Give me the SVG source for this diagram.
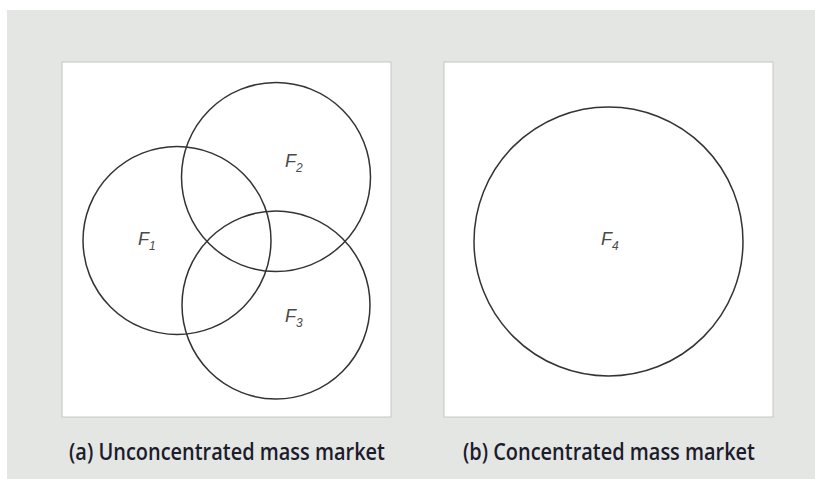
<svg xmlns="http://www.w3.org/2000/svg" width="815" height="479" viewBox="0 0 815 479">
<style>
.panel{fill:#ffffff;stroke:#c4c6c4;stroke-width:1}
.seg{fill:none;stroke:#333333;stroke-width:1.5}
.lbl{font-family:"Liberation Sans",Arial,sans-serif;font-style:italic;fill:#4a4a4a}
.f{font-size:18px}
.sub{font-size:12px}
.cap{font-family:"Open Sans","Liberation Sans",sans-serif;font-weight:600;font-size:23px;fill:#1c1c2c}
</style>
<rect x="0" y="0" width="815" height="479" fill="#ffffff"/>
<rect x="7" y="10" width="808" height="469" fill="#e4e6e4"/>
<g id="panel-a">
<rect class="panel" x="62" y="62" width="329" height="355"/>
<text class="cap" x="69" y="460" textLength="316" lengthAdjust="spacingAndGlyphs">(a) Unconcentrated mass market</text>
</g>
<g id="panel-b">
<rect class="panel" x="444" y="62" width="329" height="355"/>
<text class="cap" x="463" y="460" textLength="292" lengthAdjust="spacingAndGlyphs">(b) Concentrated mass market</text>
</g>
<g id="segment-F1">
<circle class="seg" cx="177" cy="240.5" r="94"/>
<text class="lbl" x="138" y="245"><tspan class="f">F</tspan><tspan class="sub" dy="5">1</tspan></text>
</g>
<g id="segment-F2">
<circle class="seg" cx="276" cy="177" r="94.5"/>
<text class="lbl" x="285" y="167"><tspan class="f">F</tspan><tspan class="sub" dy="5">2</tspan></text>
</g>
<g id="segment-F3">
<circle class="seg" cx="276" cy="305" r="94"/>
<text class="lbl" x="285" y="322"><tspan class="f">F</tspan><tspan class="sub" dy="5">3</tspan></text>
</g>
<g id="segment-F4">
<circle class="seg" cx="608.5" cy="241.5" r="134.5"/>
<text class="lbl" x="601" y="245"><tspan class="f">F</tspan><tspan class="sub" dy="5">4</tspan></text>
</g>
<g id="connectors"></g>
</svg>
